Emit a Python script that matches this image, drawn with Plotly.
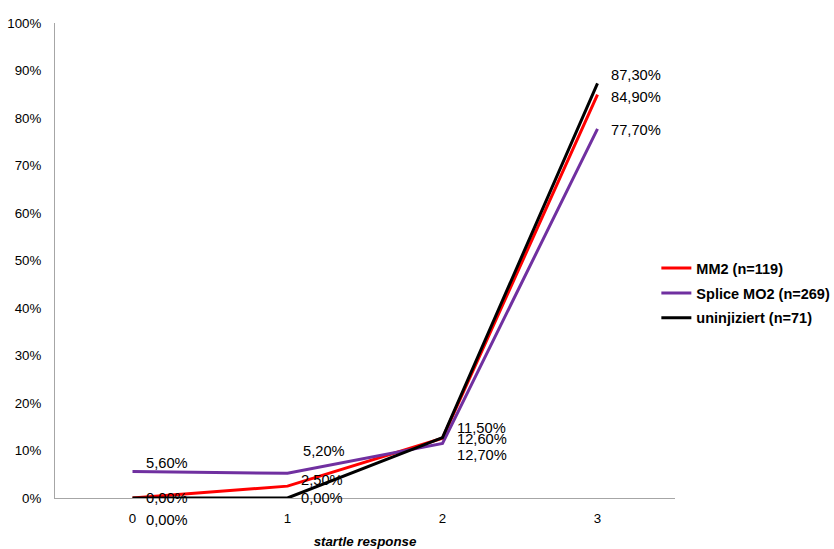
import plotly.graph_objects as go

categories = ["0", "1", "2", "3"]
series_names = ["MM2 (n=119)", "Splice MO2 (n=269)", "uninjiziert (n=71)"]
mm2 = [0.0, 2.5, 12.6, 84.9]
splice = [5.6, 5.2, 11.5, 77.7]
uninj = [0.0, 0.0, 12.7, 87.3]
y_ticks = [0, 10, 20, 30, 40, 50, 60, 70, 80, 90, 100]
y_tick_labels = [f"{t}%" for t in y_ticks]

colors = ["#FF0000", "#7030A0", "#000000"]
all_series = [mm2, splice, uninj]

FONT = "Liberation Sans, Arial"

# label offsets (px) per series per category (style only)
yshifts = [
    [0, 6, -1, -2],
    [8, 22, 15, -1],
    [-22, 0, -17, 8],
]
xshifts = [
    [11, 11, 12, 11],
    [11, 13, 12, 11],
    [11, 11, 12, 11],
]

fig = go.Figure()
for i, (name, vals, col) in enumerate(zip(series_names, all_series, colors)):
    fig.add_trace(go.Scatter(
        x=categories, y=vals, mode="lines", name=name,
        legendgroup=f"g{i}",
        line=dict(color=col, width=3),
    ))

annotations = []
for si, vals in enumerate(all_series):
    for ci, v in enumerate(vals):
        annotations.append(dict(
            x=categories[ci], y=v, xref="x", yref="y",
            text=f"{v:.2f}".replace(".", ",") + "%",
            showarrow=False, xanchor="left", yanchor="middle",
            xshift=xshifts[si][ci], yshift=yshifts[si][ci],
            font=dict(family=FONT, size=14.7, color="#000000"),
        ))

fig.update_layout(
    width=834, height=549,
    margin=dict(l=55, r=159, t=23, b=51, autoexpand=False),
    paper_bgcolor="white", plot_bgcolor="white",
    font=dict(family=FONT, size=13.3, color="#000000"),
    showlegend=True,
    legend=dict(
        xref="container", yref="container",
        x=0.787, xanchor="left", y=0.466, yanchor="middle",
        font=dict(family=FONT, size=14.5, color="#000000", weight="bold"),
        bgcolor="rgba(0,0,0,0)", itemwidth=30, tracegroupgap=3,
    ),
    annotations=annotations,
    xaxis=dict(
        type="category", range=[-0.5, 3.5], automargin=False,
        showline=True, linecolor="#A6A6A6", linewidth=1,
        showgrid=False, zeroline=False,
        ticks="outside", ticklen=8, tickcolor="rgba(0,0,0,0)",
        tickfont=dict(size=13.3),
        title=dict(text="<b><i>startle response</i></b>", font=dict(size=13.3), standoff=12),
    ),
    yaxis=dict(
        range=[0, 100], tickvals=y_ticks, ticktext=y_tick_labels, automargin=False,
        showline=True, linecolor="#A6A6A6", linewidth=1,
        showgrid=False, zeroline=False,
        ticks="outside", ticklen=10, tickcolor="rgba(0,0,0,0)",
        tickfont=dict(size=13.3),
    ),
)

fig.write_html("out.html", config={"displayModeBar": False},
               post_script="document.body.style.margin='0';")
